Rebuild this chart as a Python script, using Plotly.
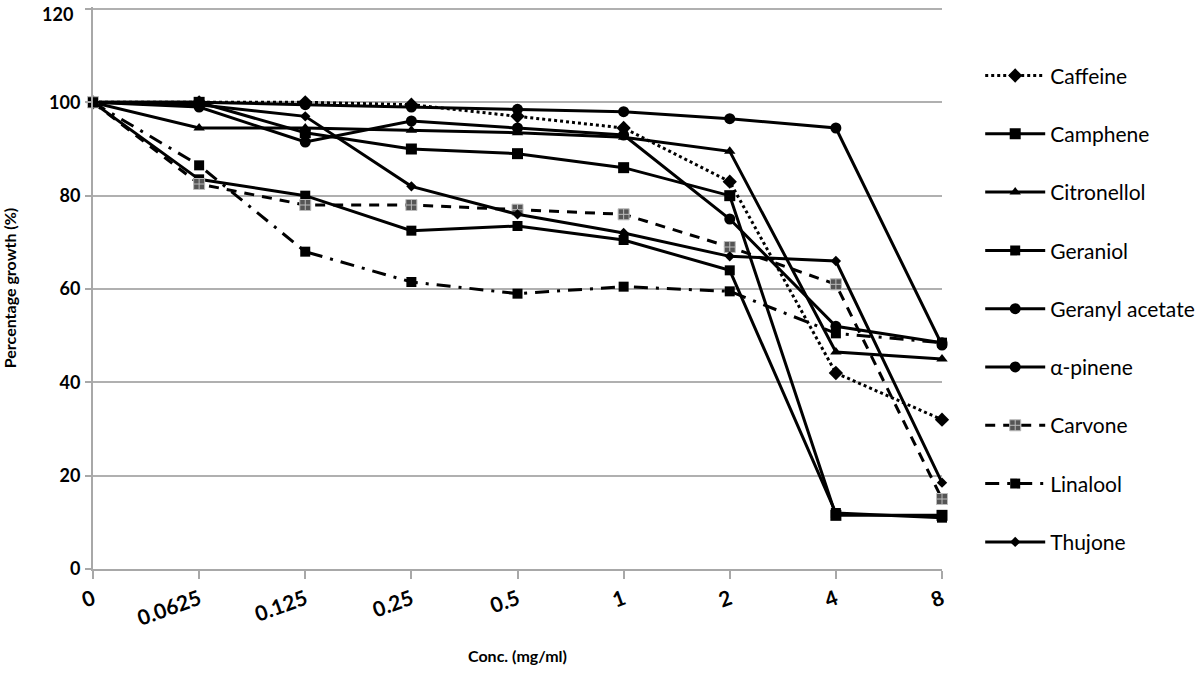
import plotly.graph_objects as go

conc = ["0", "0.0625", "0.125", "0.25", "0.5", "1", "2", "4", "8"]

caffeine = [100, 100, 100, 99.5, 97, 94.5, 83, 42, 32]
camphene = [100, 100, 93.5, 90, 89, 86, 80, 11.5, 11.5]
citronellol = [100, 94.5, 94.5, 94, 93.5, 92.5, 89.5, 46.5, 45]
geraniol = [100, 83.5, 80, 72.5, 73.5, 70.5, 64, 12, 11]
geranyl_acetate = [100, 100, 99.5, 99, 98.5, 98, 96.5, 94.5, 48]
alpha_pinene = [100, 99, 91.5, 96, 94.5, 93, 75, 52, 48.5]
carvone = [100, 82.5, 78, 78, 77, 76, 69, 61, 15]
linalool = [100, 86.5, 68, 61.5, 59, 60.5, 59.5, 50.5, 48.5]
thujone = [100, 99.5, 97, 82, 76, 72, 67, 66, 18.5]

y_ticks = [0, 20, 40, 60, 80, 100, 120]
y_top = y_ticks[-1]

FONT = "Lato"
series = [
    ("Caffeine", caffeine, "dot", "diamond", 11, "black", None),
    ("Camphene", camphene, "solid", "square", 11, "black", None),
    ("Citronellol", citronellol, "solid", "triangle-up", 10, "black", None),
    ("Geraniol", geraniol, "solid", "square", 10, "black", None),
    ("Geranyl acetate", geranyl_acetate, "solid", "circle", 11, "black", None),
    ("α-pinene", alpha_pinene, "solid", "circle", 11, "black", None),
    ("Carvone", carvone, "10px,8px", "square-cross", 11, "#555555", "#bbbbbb"),
    ("Linalool", linalool, "14px,8px,3px,8px", "square", 10, "black", None),
    ("Thujone", thujone, "solid", "diamond", 8, "black", None),
]

fig = go.Figure()
for i, (name, vals, dash, sym, size, mcol, lcol) in enumerate(series):
    marker = dict(symbol=sym, size=size, color=mcol)
    if lcol:
        marker["line"] = dict(color=lcol, width=1)
    fig.add_trace(go.Scatter(
        x=conc, y=vals, name=name, mode="lines+markers",
        line=dict(color="black", width=3, dash=dash),
        marker=marker, cliponaxis=False,
        legendgroup=f"g{i}",
    ))

# top gridline + label (plotly drops the tick at the range edge)
fig.add_shape(type="line", xref="paper", yref="y", x0=-0.008, x1=1, y0=y_top, y1=y_top,
              line=dict(color="#b0b0b0", width=2), layer="below")
fig.add_annotation(xref="paper", yref="y", x=0, y=y_top, text=f"<b>{y_top}</b>",
                   showarrow=False, xanchor="right", yanchor="top", xshift=-18, yshift=8,
                   font=dict(family=FONT, size=18, color="black"))

fig.update_layout(
    width=1200, height=679,
    margin=dict(l=93, r=258, t=7, b=110, autoexpand=False),
    plot_bgcolor="white", paper_bgcolor="white",
    font=dict(family=FONT, color="black", size=15),
    showlegend=True,
    legend=dict(
        x=1.045, y=0.914, xanchor="left", yanchor="top",
        traceorder="grouped", tracegroupgap=28,
        font=dict(family=FONT, size=21, color="black"),
        itemwidth=60,
    ),
    xaxis=dict(
        type="category", range=[0, 8], automargin=False,
        tickvals=conc, ticktext=[f"<b>{c}</b>" for c in conc],
        showgrid=False, showline=True, linecolor="#a8a8a8", linewidth=2,
        ticks="outside", ticklen=8, tickcolor="#a8a8a8", tickwidth=2,
        tickangle=-20,
        tickfont=dict(family=FONT, size=21, color="black"),
        title=dict(text="<b>Conc. (mg/ml)</b>", font=dict(family=FONT, size=16), standoff=22),
    ),
    yaxis=dict(
        range=[0, 120.43], tickvals=y_ticks, automargin=False,
        ticktext=[f"<b>{v}</b>" for v in y_ticks],
        showgrid=True, gridcolor="#b0b0b0", gridwidth=2,
        showline=True, linecolor="#a8a8a8", linewidth=2,
        ticks="outside", ticklen=6, tickcolor="#a8a8a8", tickwidth=2,
        ticklabelstandoff=1,
        zeroline=False,
        tickfont=dict(family=FONT, size=18, color="black"),
        title=dict(text="<b>Percentage growth (%)</b>", font=dict(family=FONT, size=16), standoff=30),
    ),
)

fig.write_html(
    "out.html",
    config={"displayModeBar": False},
    post_script="document.body.style.margin='0';document.body.style.overflow='hidden';",
)
